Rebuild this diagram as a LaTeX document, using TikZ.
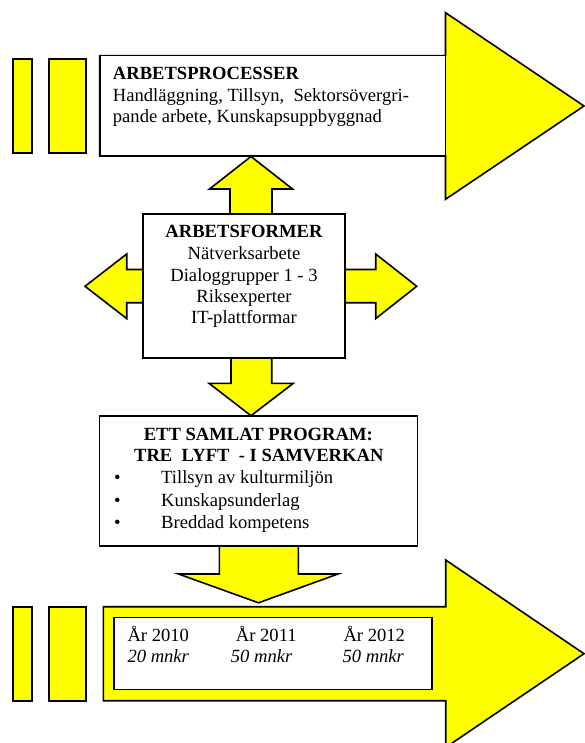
\documentclass[tikz,border=0pt]{standalone}
\usepackage{fontspec}
\setmainfont{Liberation Serif}
\definecolor{ylw}{RGB}{255,255,0}
\begin{document}
\begin{tikzpicture}[x=1pt,y=-1pt,line join=miter,
  shp/.style={draw=black, fill=ylw, line width=1.6pt},
  wbox/.style={draw=black, fill=white, line width=1.6pt, inner sep=0pt, outer sep=0pt, anchor=north west},
  txt/.style={inner sep=0pt, font=\fontsize{18.6}{21.4}\selectfont}]
\useasboundingbox (0,0) rectangle (584,743);
% top big arrow
\draw[shp] (99.7,55.7) -- (445.5,55.7) -- (445.5,12.7) -- (584,106) -- (445.5,199.3) -- (445.5,156) -- (99.7,156) -- cycle;
\node[wbox, minimum width=345.8pt, minimum height=100.3pt] (proc) at (99.7,55.7) {};
% bars top
\draw[shp] (12.7,59) rectangle (31.7,153);
\draw[shp] (49,59) rectangle (85.7,153);
% up arrow
\draw[shp] (230,214) -- (230,189) -- (209.5,189) -- (251,156.5) -- (292.5,189) -- (272,189) -- (272,214) -- cycle;
% left arrow
\draw[shp] (143,269.5) -- (126.7,269.5) -- (126.7,254) -- (85,286.3) -- (126.7,318.6) -- (126.7,302.7) -- (143,302.7) -- cycle;
% right arrow
\draw[shp] (345,269.5) -- (375.7,269.5) -- (375.7,254) -- (416.7,286.3) -- (375.7,318.6) -- (375.7,302.7) -- (345,302.7) -- cycle;
% down arrow 1
\draw[shp] (231,358) -- (231,383.3) -- (209,383.3) -- (251,415.7) -- (293.3,383.3) -- (271.7,383.3) -- (271.7,358) -- cycle;
% down arrow 2
\draw[shp] (219.3,545.7) -- (219.3,574) -- (178.5,574) -- (258.5,602.8) -- (338,574) -- (298.3,574) -- (298.3,545.7) -- cycle;
% boxes
\node[wbox, minimum width=202pt, minimum height=144pt] (form) at (143,214) {};
\node[wbox, minimum width=318pt, minimum height=130pt] (prog) at (99.5,415.7) {};
% bottom big arrow
\draw[shp] (103.3,606.7) -- (445.7,606.7) -- (445.7,560) -- (584,653.7) -- (445.7,747.4) -- (445.7,700.7) -- (103.3,700.7) -- cycle;
\node[wbox, minimum width=317.7pt, minimum height=72pt] (years) at (114,617.3) {};
% bars bottom
\draw[shp] (12.7,606.7) rectangle (31.7,700.7);
\draw[shp] (49,606.7) rectangle (85.7,700.7);
% texts top box
\node[txt, anchor=base west] (p1) at (112.7,80) {\bfseries ARBETSPROCESSER};
\node[txt, anchor=base west] (p2) at (112.7,101.7) {Handläggning, Tillsyn,\ \ Sektorsövergri-};
\node[txt, anchor=base west] (p3) at (112.7,123) {pande arbete, Kunskapsuppbyggnad};
% texts form box
\node[txt, anchor=base] (f1) at (244,237.7) {\bfseries ARBETSFORMER};
\node[txt, anchor=base] (f2) at (244,259.6) {Nätverksarbete};
\node[txt, anchor=base] (f3) at (244,281) {Dialoggrupper 1 - 3};
\node[txt, anchor=base] (f4) at (244,302.2) {Riksexperter};
\node[txt, anchor=base] (f5) at (244,323.5) {IT-plattformar};
% texts program box
\node[txt, anchor=base] (g1) at (258.3,440) {\bfseries ETT SAMLAT PROGRAM:};
\node[txt, anchor=base] (g2) at (258.8,461.7) {\bfseries TRE\ \ LYFT\ \ - I SAMVERKAN};
\node[txt, anchor=base] (b1) at (117.3,483.5) {•};
\node[txt, anchor=base] (b2) at (117.3,506) {•};
\node[txt, anchor=base] (b3) at (117.3,528) {•};
\node[txt, anchor=base west] (g3) at (161,483.5) {Tillsyn av kulturmiljön};
\node[txt, anchor=base west] (g4) at (161,506) {Kunskapsunderlag};
\node[txt, anchor=base west] (g5) at (161,528) {Breddad kompetens};
% texts years
\node[txt, anchor=base west] (y1) at (127.3,641) {År 2010};
\node[txt, anchor=base west] (m1) at (127.3,662.7) {\itshape 20 mnkr};
\node[txt, anchor=base west] (y2) at (235.7,641) {År 2011};
\node[txt, anchor=base west] (m2) at (230.7,662.7) {\itshape 50 mnkr};
\node[txt, anchor=base west] (y3) at (343.3,641) {År 2012};
\node[txt, anchor=base west] (m3) at (342.3,662.7) {\itshape 50 mnkr};
\end{tikzpicture}
\end{document}
